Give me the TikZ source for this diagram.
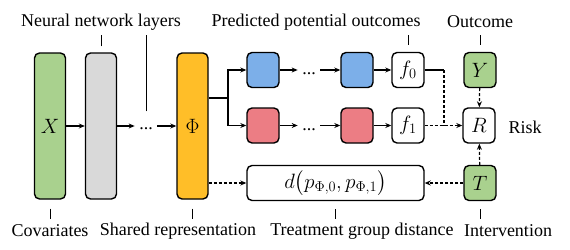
\documentclass[tikz,border=0pt]{standalone}
\usepackage{amsmath}
\usepackage{fontspec}
\setmainfont{Liberation Serif}
\usetikzlibrary{arrows.meta}
\definecolor{covgreen}{RGB}{169,209,142}
\definecolor{layergray}{RGB}{217,217,217}
\definecolor{repyellow}{RGB}{255,190,40}
\definecolor{headblue}{RGB}{124,175,233}
\definecolor{headred}{RGB}{236,125,132}

\begin{document}
\begin{tikzpicture}[x=1pt, y=-1pt, line width=1.2pt,
    font=\rmfamily\fontsize{18}{21}\selectfont,
    >={Stealth[length=6pt,width=5pt]},
    tallbox/.style={draw, rectangle, rounded corners=5pt, minimum width=31pt, minimum height=146pt, line width=1.4pt},
    smallbox/.style={draw, rectangle, rounded corners=5pt, minimum width=32pt, minimum height=35pt, line width=1.4pt, inner sep=0pt, font=\fontsize{20}{22}\selectfont},
    dash line/.style={dash pattern=on 3pt off 2pt},
    tick/.style={line width=0.8pt}]
        \useasboundingbox (0,0) rectangle (570,249);
        \node[tallbox, fill=covgreen, font=\fontsize{20}{22}\selectfont] (covx) at (50,126) {$X$};
        \node[tallbox, fill=layergray] (layer) at (101,126) {};
        \node[inner sep=1pt] (dotsa) at (146,129) {...};
        \node[tallbox, fill=repyellow, font=\fontsize{20}{22}\selectfont] (phi) at (192.5,126) {$\Phi$};
        \node[smallbox, fill=headblue] (blueA) at (263,70) {};
        \node[inner sep=1pt] (dotsb) at (309,74) {...};
        \node[smallbox, fill=headblue] (blueB) at (357,70) {};
        \node[smallbox] (fzero) at (408,70) {$f_0$};
        \node[smallbox, fill=covgreen] (outy) at (480,70) {$Y$};
        \node[smallbox, fill=headred] (redA) at (263,125.5) {};
        \node[inner sep=1pt] (dotsc) at (309,129.5) {...};
        \node[smallbox, fill=headred] (redB) at (357,125.5) {};
        \node[smallbox] (fone) at (408,125.5) {$f_1$};
        \node[smallbox] (risk) at (479,125.5) {$R$};
        \node[smallbox, minimum width=177pt] (dist) at (335.5,183) {$d\big(p_{\Phi,0},p_{\Phi,1}\big)$};
        \node[smallbox, fill=covgreen] (treat) at (480,183) {$T$};
        \node (risklbl) at (525,127) {Risk};
        \node (layerlbl) at (101,22) {Neural network layers};
        \node (predlbl) at (316,22) {Predicted potential outcomes};
        \node (outlbl) at (480,22) {Outcome};
        \node (covlbl) at (50,231) {Covariates};
        \node (replbl) at (178,231) {Shared representation};
        \node (distlbl) at (362,231) {Treatment group distance};
        \node (intlbl) at (508,231) {Intervention};
        \coordinate (split) at (228,98);
        \coordinate (join) at (444,125.5);
        \draw[->] (covx) -- (layer);
        \draw[->] (layer) -- ([xshift=-3pt]dotsa.west |- layer);
        \draw[->] ([xshift=3pt]dotsa.east |- phi) -- (phi);
        \draw (phi.east |- split) -- (split);
        \draw[->] (split) |- (blueA);
        \draw[->] (split) |- (redA);
        \draw[->] (blueA) -- ([xshift=-3pt]dotsb.west |- blueA);
        \draw[->] ([xshift=3pt]dotsb.east |- blueB) -- (blueB);
        \draw[->] (blueB) -- (fzero);
        \draw[->] (redA) -- ([xshift=-3pt]dotsc.west |- redA);
        \draw[->] ([xshift=3pt]dotsc.east |- redB) -- (redB);
        \draw[->] (redB) -- (fone);
        \draw (fzero) -- (fzero -| join);
        \draw[dash line] (fzero -| join) -- (join);
        \draw[dash line, ->] (fone) -- (risk);
        \draw[dash line, ->] (outy) -- (risk);
        \draw[dash line, ->] (treat) -- (risk);
        \draw[dash line, ->] (treat) -- (dist);
        \draw[dash line, ->] (phi.east |- dist) -- (dist);
        \draw[tick] ([yshift=6pt]layer.north) -- ++(0,-11);
        \draw[tick] ([yshift=15pt]dotsa.north) -- ++(0,-76);
        \draw[tick] ([yshift=7pt]fzero.north) -- ++(0,-10);
        \draw[tick] ([yshift=7pt]outy.north) -- ++(0,-10);
        \draw[tick] ([yshift=-9pt]covx.south) -- ++(0,10);
        \draw[tick] ([yshift=-9pt]phi.south) -- ++(0,10);
        \draw[tick] ([yshift=-8pt]dist.south) -- ++(0,10);
        \draw[tick] ([yshift=-8pt]treat.south) -- ++(0,10);
    \end{tikzpicture}
\end{document}
